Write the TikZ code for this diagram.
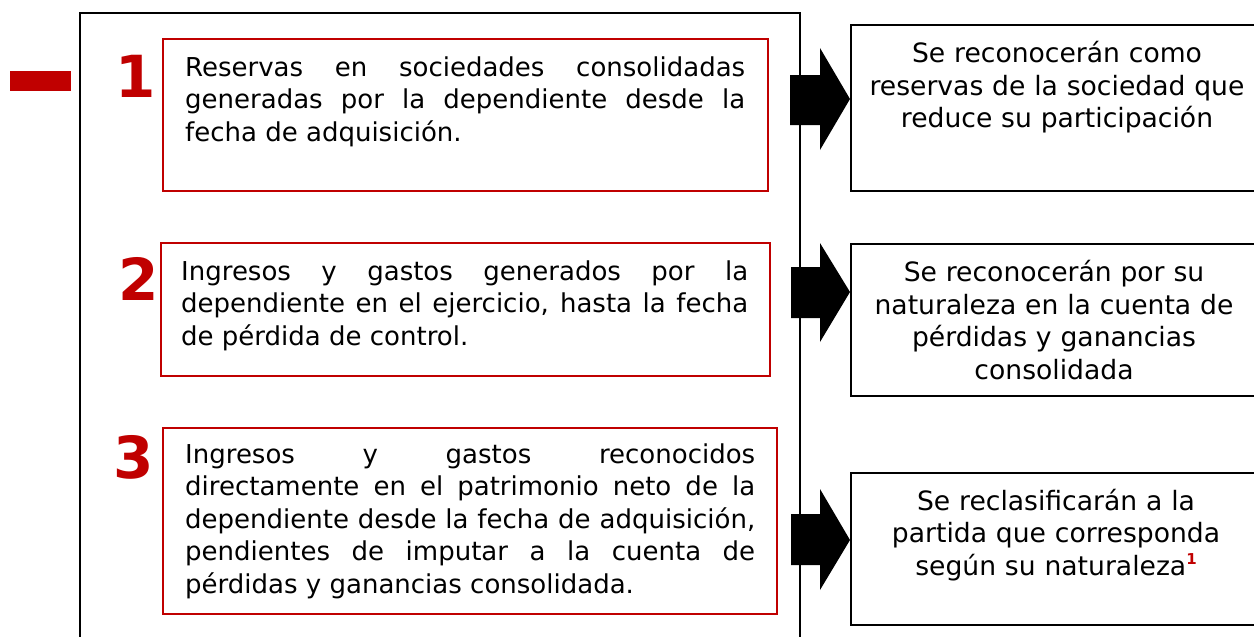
\documentclass[tikz,border=0pt]{standalone}
\usepackage{fontspec}
\setmainfont{DejaVu Sans}
\definecolor{dred}{RGB}{192,0,0}
\tikzset{
  redbox/.style={draw=dred, line width=2pt, anchor=north west, inner sep=0pt},
  blkbox/.style={draw=black, line width=2.4pt, anchor=north west, inner sep=0pt},
  lefttext/.style={anchor=north west, inner sep=0pt, align=left, font=\fontsize{26}{32.5}\selectfont},
  righttext/.style={anchor=north, inner sep=0pt, align=center, text width=420pt, font=\fontsize{26.6}{32.5}\selectfont},
  numtext/.style={anchor=base east, inner sep=0pt, text=dred, font=\fontsize{58}{60}\selectfont\bfseries},
  blockarrow/.style={fill=black}
}
\newcommand{\st}{\rule{0pt}{26pt}}
\begin{document}
\begin{tikzpicture}[x=1pt,y=-1pt]
\useasboundingbox (0,0) rectangle (1254,637);
% red dash
\node (dash) [fill=dred, anchor=north west, inner sep=0pt, minimum width=61pt, minimum height=20pt] at (10,71) {};
% frame
\coordinate (fbl) at (80,645);
\coordinate (ftl) at (80,13);
\coordinate (ftr) at (800,13);
\coordinate (fbr) at (800,645);
\draw[line width=2pt] (fbl) -- (ftl) -- (ftr) -- (fbr);
% red boxes
\node (b1) [redbox, minimum width=605pt, minimum height=152pt] at (162,38) {};
\node (b2) [redbox, minimum width=609pt, minimum height=133pt] at (160,242) {};
\node (b3) [redbox, minimum width=614pt, minimum height=186pt] at (162,427) {};
% numbers
\node (n1) [numtext] at (156,97) {1};
\node (n2) [numtext] at (159,300) {2};
\node (n3) [numtext] at (154,478) {3};
% left texts
\node (t1) [lefttext] at (185,50) {\st\makebox[560pt][s]{Reservas en sociedades consolidadas}\\
\makebox[560pt][s]{generadas por la dependiente desde la}\\
fecha de adquisición.};
\node (t2) [lefttext] at (181,254) {\st\makebox[567pt][s]{Ingresos y gastos generados por la}\\
\makebox[567pt][s]{dependiente en el ejercicio, hasta la fecha}\\
de pérdida de control.};
\node (t3) [lefttext] at (185,437) {\st\makebox[570pt][s]{Ingresos y gastos reconocidos}\\
\makebox[570pt][s]{directamente en el patrimonio neto de la}\\
\makebox[570pt][s]{dependiente desde la fecha de adquisición,}\\
\makebox[570pt][s]{pendientes de imputar a la cuenta de}\\
pérdidas y ganancias consolidada.};
% right boxes
\node (rA) [blkbox, minimum width=414pt, minimum height=166pt] at (850,24) {};
\node (rB) [blkbox, minimum width=414pt, minimum height=152pt] at (850,243) {};
\node (rC) [blkbox, minimum width=414pt, minimum height=152pt] at (850,472) {};
\node (tA) [righttext] at (1057,36.7) {\st Se reconocerán como\\reservas de la sociedad que\\reduce su participación};
\node (tB) [righttext] at (1054,255.7) {\st Se reconocerán por su\\naturaleza en la cuenta de\\pérdidas y ganancias\\consolidada};
\node (tC) [righttext] at (1056,484) {\st Se reclasificarán a la\\partida que corresponda\\según su naturaleza\raisebox{11pt}{\textcolor{dred}{\fontsize{15}{15}\selectfont\bfseries 1}}};
% block arrows
\fill[blockarrow] (790,75) -- (820,75) -- (820,48) -- (rA.west |- 0,99) -- (820,150) -- (820,125) -- (790,125) -- cycle;
\fill[blockarrow] (791,267) -- (820,267) -- (820,243) -- (rB.west |- 0,292) -- (820,342) -- (820,318) -- (791,318) -- cycle;
\fill[blockarrow] (791,514) -- (820,514) -- (820,489) -- (rC.west |- 0,540) -- (820,590) -- (820,565) -- (791,565) -- cycle;
\end{tikzpicture}
\end{document}
